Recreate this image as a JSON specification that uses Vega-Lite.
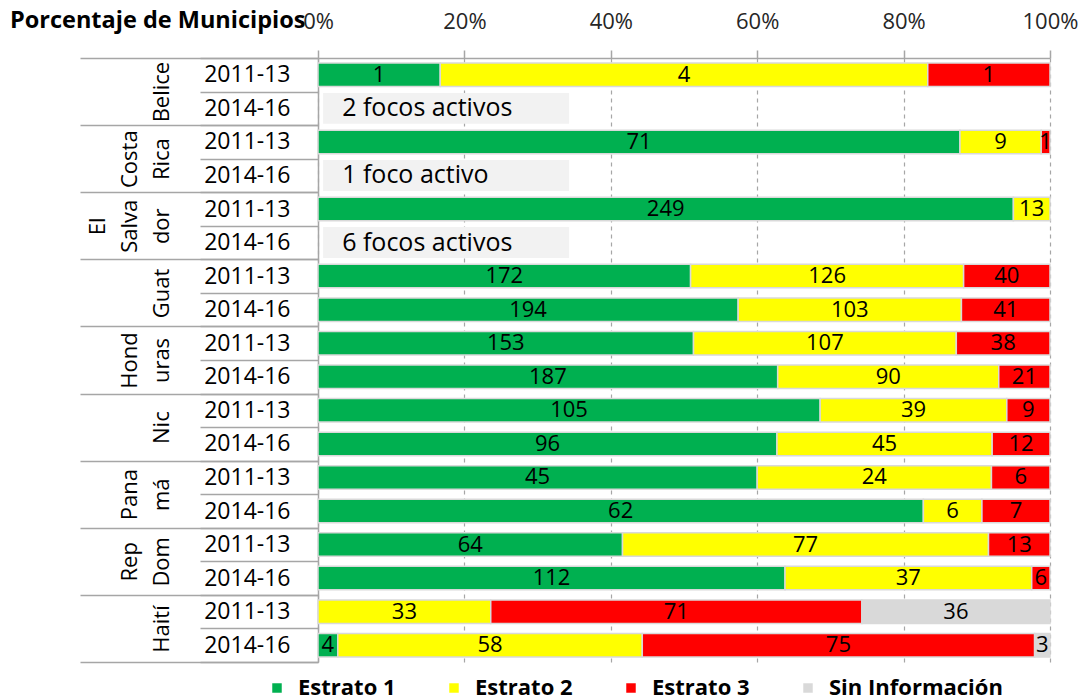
{
  "$schema": "https://vega.github.io/schema/vega-lite/v6.json",
  "width": 732,
  "height": 604,
  "autosize": "none",
  "padding": {"left": 318, "top": 58, "right": 37, "bottom": 38},
  "background": "white",
  "config": {"font": "Open Sans", "view": {"stroke": null}},
  "datasets": {
    "bars": [
      {"grupo": "Belice|2011-13", "estrato": "Estrato 1", "pct": 16.7, "n": 1},
      {"grupo": "Belice|2011-13", "estrato": "Estrato 2", "pct": 66.6, "n": 4},
      {"grupo": "Belice|2011-13", "estrato": "Estrato 3", "pct": 16.7, "n": 1},
      {"grupo": "Costa Rica|2011-13", "estrato": "Estrato 1", "pct": 87.7, "n": 71},
      {"grupo": "Costa Rica|2011-13", "estrato": "Estrato 2", "pct": 11.1, "n": 9},
      {"grupo": "Costa Rica|2011-13", "estrato": "Estrato 3", "pct": 1.2, "n": 1},
      {"grupo": "El Salvador|2011-13", "estrato": "Estrato 1", "pct": 95.0, "n": 249},
      {"grupo": "El Salvador|2011-13", "estrato": "Estrato 2", "pct": 5.0, "n": 13},
      {"grupo": "Guatemala|2011-13", "estrato": "Estrato 1", "pct": 50.9, "n": 172},
      {"grupo": "Guatemala|2011-13", "estrato": "Estrato 2", "pct": 37.3, "n": 126},
      {"grupo": "Guatemala|2011-13", "estrato": "Estrato 3", "pct": 11.8, "n": 40},
      {"grupo": "Guatemala|2014-16", "estrato": "Estrato 1", "pct": 57.4, "n": 194},
      {"grupo": "Guatemala|2014-16", "estrato": "Estrato 2", "pct": 30.5, "n": 103},
      {"grupo": "Guatemala|2014-16", "estrato": "Estrato 3", "pct": 12.1, "n": 41},
      {"grupo": "Honduras|2011-13", "estrato": "Estrato 1", "pct": 51.3, "n": 153},
      {"grupo": "Honduras|2011-13", "estrato": "Estrato 2", "pct": 35.9, "n": 107},
      {"grupo": "Honduras|2011-13", "estrato": "Estrato 3", "pct": 12.8, "n": 38},
      {"grupo": "Honduras|2014-16", "estrato": "Estrato 1", "pct": 62.8, "n": 187},
      {"grupo": "Honduras|2014-16", "estrato": "Estrato 2", "pct": 30.2, "n": 90},
      {"grupo": "Honduras|2014-16", "estrato": "Estrato 3", "pct": 7.0, "n": 21},
      {"grupo": "Nicaragua|2011-13", "estrato": "Estrato 1", "pct": 68.6, "n": 105},
      {"grupo": "Nicaragua|2011-13", "estrato": "Estrato 2", "pct": 25.5, "n": 39},
      {"grupo": "Nicaragua|2011-13", "estrato": "Estrato 3", "pct": 5.9, "n": 9},
      {"grupo": "Nicaragua|2014-16", "estrato": "Estrato 1", "pct": 62.7, "n": 96},
      {"grupo": "Nicaragua|2014-16", "estrato": "Estrato 2", "pct": 29.4, "n": 45},
      {"grupo": "Nicaragua|2014-16", "estrato": "Estrato 3", "pct": 7.9, "n": 12},
      {"grupo": "Panamá|2011-13", "estrato": "Estrato 1", "pct": 60.0, "n": 45},
      {"grupo": "Panamá|2011-13", "estrato": "Estrato 2", "pct": 32.0, "n": 24},
      {"grupo": "Panamá|2011-13", "estrato": "Estrato 3", "pct": 8.0, "n": 6},
      {"grupo": "Panamá|2014-16", "estrato": "Estrato 1", "pct": 82.7, "n": 62},
      {"grupo": "Panamá|2014-16", "estrato": "Estrato 2", "pct": 8.0, "n": 6},
      {"grupo": "Panamá|2014-16", "estrato": "Estrato 3", "pct": 9.3, "n": 7},
      {"grupo": "Rep. Dominicana|2011-13", "estrato": "Estrato 1", "pct": 41.6, "n": 64},
      {"grupo": "Rep. Dominicana|2011-13", "estrato": "Estrato 2", "pct": 50.0, "n": 77},
      {"grupo": "Rep. Dominicana|2011-13", "estrato": "Estrato 3", "pct": 8.4, "n": 13},
      {"grupo": "Rep. Dominicana|2014-16", "estrato": "Estrato 1", "pct": 63.8, "n": 112},
      {"grupo": "Rep. Dominicana|2014-16", "estrato": "Estrato 2", "pct": 33.7, "n": 37},
      {"grupo": "Rep. Dominicana|2014-16", "estrato": "Estrato 3", "pct": 2.5, "n": 6},
      {"grupo": "Haití|2011-13", "estrato": "Estrato 2", "pct": 23.6, "n": 33},
      {"grupo": "Haití|2011-13", "estrato": "Estrato 3", "pct": 50.7, "n": 71},
      {"grupo": "Haití|2011-13", "estrato": "Sin Información", "pct": 25.7, "n": 36},
      {"grupo": "Haití|2014-16", "estrato": "Estrato 1", "pct": 2.7, "n": 4},
      {"grupo": "Haití|2014-16", "estrato": "Estrato 2", "pct": 41.6, "n": 58},
      {"grupo": "Haití|2014-16", "estrato": "Estrato 3", "pct": 53.6, "n": 75},
      {"grupo": "Haití|2014-16", "estrato": "Sin Información", "pct": 2.1, "n": 3}
    ],
    "notas": [
      {"grupo": "Belice|2014-16", "nota": "2 focos activos"},
      {"grupo": "Costa Rica|2014-16", "nota": "1 foco activo"},
      {"grupo": "El Salvador|2014-16", "nota": "6 focos activos"}
    ]
  },
  "layer": [
    {
      "data": {"name": "bars"},
      "mark": {"type": "bar", "height": {"band": 0.7}, "stroke": "#d9d9d9", "strokeWidth": 1.5},
      "encoding": {
        "y": {
          "field": "grupo", "type": "nominal",
          "scale": {"domain": ["Belice|2011-13", "Belice|2014-16", "Costa Rica|2011-13", "Costa Rica|2014-16", "El Salvador|2011-13", "El Salvador|2014-16", "Guatemala|2011-13", "Guatemala|2014-16", "Honduras|2011-13", "Honduras|2014-16", "Nicaragua|2011-13", "Nicaragua|2014-16", "Panamá|2011-13", "Panamá|2014-16", "Rep. Dominicana|2011-13", "Rep. Dominicana|2014-16", "Haití|2011-13", "Haití|2014-16"], "paddingInner": 0, "paddingOuter": 0},
          "axis": {
            "orient": "left", "title": null,
            "labelExpr": "isString(datum.value) ? split(datum.value, '|')[1] : ''",
            "tickBand": "extent", "tickSize": 118, "tickColor": "#a6a6a6", "tickWidth": 1.5,
            "labelPadding": -90, "labelFontSize": 23, "labelColor": "#000000",
            "labelAlign": "right", "labelBaseline": "middle",
            "domainColor": "#a6a6a6", "domainWidth": 1.5
          }
        },
        "x": {
          "field": "pct", "type": "quantitative", "stack": "normalize",
          "scale": {"domain": [0, 1], "nice": false},
          "axis": {
            "orient": "top", "format": ".0%", "values": [0, 0.2, 0.4, 0.6, 0.8, 1],
            "title": "Porcentaje de Municipios", "titleX": -13, "titleY": -38,
            "titleAlign": "right", "titleBaseline": "middle", "titleFontSize": 23.5,
            "titleFontWeight": "bold", "titleColor": "#000000",
            "labelFontSize": 22, "labelColor": "#262626", "labelPadding": 29, "labelBaseline": "middle",
            "labelFlush": false,
            "tickSize": 8, "tickColor": "#a6a6a6", "tickWidth": 1.5,
            "domainColor": "#a6a6a6", "domainWidth": 1.5,
            "grid": true, "gridDash": [4, 4], "gridColor": "#a6a6a6", "gridWidth": 1.2
          }
        },
        "color": {
          "field": "estrato", "type": "nominal",
          "scale": {"domain": ["Estrato 1", "Estrato 2", "Estrato 3", "Sin Información"], "range": ["#00b050", "#ffff00", "#ff0000", "#d9d9d9"]},
          "legend": {
            "orient": "none", "legendX": -52, "legendY": 619, "direction": "horizontal",
            "title": null, "symbolType": "square", "symbolSize": 90, "symbolStrokeWidth": 0,
            "labelFontSize": 22, "labelFontWeight": "bold", "labelColor": "#000000",
            "labelOffset": 10, "columnPadding": 47, "labelLimit": 0
          }
        },
        "order": {"field": "estrato", "type": "ordinal", "sort": "ascending"}
      }
    },
    {
      "data": {"name": "bars"},
      "mark": {"type": "text", "fontSize": 22, "color": "#000000", "align": "center", "baseline": "middle"},
      "encoding": {
        "y": {"field": "grupo", "type": "nominal", "axis": null},
        "x": {"field": "pct", "type": "quantitative", "stack": "normalize", "bandPosition": 0.5},
        "detail": {"field": "estrato", "type": "nominal"},
        "order": {"field": "estrato", "type": "ordinal", "sort": "ascending"},
        "text": {"field": "n", "type": "quantitative"}
      }
    },
    {
      "data": {"name": "notas"},
      "mark": {"type": "bar", "height": {"band": 0.92}, "color": "#f2f2f2"},
      "encoding": {
        "y": {"field": "grupo", "type": "nominal", "axis": null},
        "x": {"datum": 0.007, "type": "quantitative"},
        "x2": {"datum": 0.343}
      }
    },
    {
      "data": {"name": "notas"},
      "mark": {"type": "text", "fontSize": 25, "color": "#000000", "align": "left", "baseline": "middle"},
      "encoding": {
        "y": {
          "field": "grupo", "type": "nominal",
          "axis": {
            "orient": "left", "title": null, "domain": false,
            "labelExpr": "isString(datum.value) && indexof(datum.value, '2011') >= 0 ? ({'Belice': ['\u200b', '\u200b', 'Belice'], 'Costa Rica': ['\u200b', 'Costa', 'Rica'], 'El Salvador': ['El', 'Salva', 'dor'], 'Guatemala': ['\u200b', '\u200b', 'Guat'], 'Honduras': ['\u200b', 'Hond', 'uras'], 'Nicaragua': ['\u200b', '\u200b', 'Nic'], 'Panamá': ['\u200b', 'Pana', 'má'], 'Rep. Dominicana': ['\u200b', 'Rep', 'Dom'], 'Haití': ['\u200b', '\u200b', 'Haití']})[split(datum.value, '|')[0]] : ''",
            "labelAngle": 270, "labelAlign": "center", "labelBaseline": "bottom",
            "labelOffset": 16.78, "labelLineHeight": 32,
            "labelPadding": -29, "labelFontSize": 22, "labelColor": "#000000",
            "tickBand": "extent", "tickSize": 238, "tickColor": "#a6a6a6", "tickWidth": 1.5,
            "tickOpacity": {"condition": {"test": "datum.extra || indexof(datum.value, '2014') >= 0", "value": 1}, "value": 0}
          }
        },
        "x": {"datum": 0.033, "type": "quantitative"},
        "text": {"field": "nota"}
      }
    }
  ],
  "resolve": {"axis": {"y": "independent"}}
}
